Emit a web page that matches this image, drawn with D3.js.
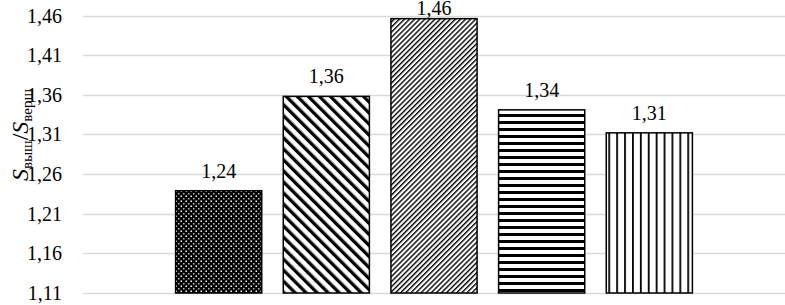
<!DOCTYPE html>
<html>
<head>
<meta charset="utf-8">
<script src="https://cdn.jsdelivr.net/npm/d3@7"></script>
<style>
  html, body { margin: 0; padding: 0; background: #fff; }
  svg { display: block; }
</style>
</head>
<body>
<svg id="chart"></svg>
<script>
(function () {
    // data
    var categories = ["95", "105", "115", "125", "135"];
    var values = [1.239, 1.358, 1.456, 1.341, 1.312];
    var patterns = ["dots", "wideDown", "narrowUp", "horiz", "vert"];
    var yTicks = [1.11, 1.16, 1.21, 1.26, 1.31, 1.36, 1.41, 1.46];

    var width = 785,
        height = 305,
        font = "Liberation Serif";

    var svg = d3.select('#chart')
        .attr('width', width)
        .attr('height', height)
        .attr('font-family', font);

    var x = d3.scaleBand()
        .domain(categories)
        .range([83, 785])
        .paddingInner(0.2)
        .paddingOuter(0.86);

    var y = d3.scaleLinear()
        .domain([1.11, 1.46])
        .range([293, 15.5]);

    var fmt = function (v) { return d3.format(".2f")(v).replace(".", ","); };

    // fill patterns
    var defs = svg.append("defs");

    var p1 = defs.append("pattern").attr("id", "dots")
        .attr("patternUnits", "userSpaceOnUse")
        .attr("width", 5).attr("height", 5);
    p1.append("rect").attr("width", 5).attr("height", 5).attr("fill", "#000");
    p1.append("rect").attr("x", 0.5).attr("y", 0.5).attr("width", 1.5).attr("height", 1.5).attr("fill", "#fff");
    p1.append("rect").attr("x", 3).attr("y", 3).attr("width", 1.5).attr("height", 1.5).attr("fill", "#bbb");

    var p2 = defs.append("pattern").attr("id", "wideDown")
        .attr("patternUnits", "userSpaceOnUse")
        .attr("width", 7.8).attr("height", 7.8)
        .attr("patternTransform", "rotate(-45)");
    p2.append("rect").attr("width", 7.8).attr("height", 7.8).attr("fill", "#fff");
    p2.append("rect").attr("width", 3.3).attr("height", 7.8).attr("fill", "#000");

    var p3 = defs.append("pattern").attr("id", "narrowUp")
        .attr("patternUnits", "userSpaceOnUse")
        .attr("width", 3.6).attr("height", 3.6)
        .attr("patternTransform", "rotate(45)");
    p3.append("rect").attr("width", 3.6).attr("height", 3.6).attr("fill", "#fff");
    p3.append("rect").attr("width", 1.4).attr("height", 3.6).attr("fill", "#000");

    var p4 = defs.append("pattern").attr("id", "horiz")
        .attr("patternUnits", "userSpaceOnUse")
        .attr("width", 10).attr("height", 7);
    p4.append("rect").attr("width", 10).attr("height", 7).attr("fill", "#fff");
    p4.append("rect").attr("y", 2).attr("width", 10).attr("height", 3).attr("fill", "#000");

    var p5 = defs.append("pattern").attr("id", "vert")
        .attr("patternUnits", "userSpaceOnUse")
        .attr("width", 7.9).attr("height", 10);
    p5.append("rect").attr("width", 7.9).attr("height", 10).attr("fill", "#fff");
    p5.append("rect").attr("x", 0).attr("width", 1.8).attr("height", 10).attr("fill", "#000");

    // gridlines
    svg.append("g")
        .selectAll("line")
        .data(yTicks)
        .enter().append("line")
        .attr("x1", 83).attr("x2", 785)
        .attr("y1", function (d) { return Math.round(y(d)) + 0.5; })
        .attr("y2", function (d) { return Math.round(y(d)) + 0.5; })
        .attr("stroke", "#d9d9d9")
        .attr("stroke-width", 1.3);

    // y tick labels
    svg.append("g")
        .selectAll("text")
        .data(yTicks)
        .enter().append("text")
        .attr("x", 62)
        .attr("y", function (d) { return y(d) + 7; })
        .attr("text-anchor", "end")
        .attr("font-family", font)
        .attr("font-size", 20)
        .attr("fill", "#000")
        .text(fmt);

    // bars
    svg.append("g")
        .selectAll("rect")
        .data(values)
        .enter().append("rect")
        .attr("x", function (d, i) { return x(categories[i]); })
        .attr("y", function (d) { return y(d); })
        .attr("width", x.bandwidth())
        .attr("height", function (d) { return y(1.11) - y(d); })
        .attr("fill", function (d, i) { return "url(#" + patterns[i] + ")"; })
        .attr("stroke", "#000")
        .attr("stroke-width", 1.5);

    // value labels
    svg.append("g")
        .selectAll("text")
        .data(values)
        .enter().append("text")
        .attr("x", function (d, i) { return x(categories[i]) + x.bandwidth() / 2; })
        .attr("y", function (d) { return Math.max(y(d) - 13, 15); })
        .attr("text-anchor", "middle")
        .attr("font-family", font)
        .attr("font-size", 20)
        .attr("fill", "#000")
        .text(fmt);

    // category labels (cut off by the bottom edge, as in the source)
    svg.append("g")
        .selectAll("text")
        .data(categories)
        .enter().append("text")
        .attr("x", function (d) { return x(d) + x.bandwidth() / 2; })
        .attr("y", 319)
        .attr("text-anchor", "middle")
        .attr("font-family", font)
        .attr("font-size", 20)
        .attr("fill", "#000")
        .text(function (d) { return d; });

    // y axis title
    var title = svg.append("text")
        .attr("transform", "translate(28,135) rotate(-90)")
        .attr("text-anchor", "middle")
        .attr("font-family", font)
        .attr("font-size", 24)
        .attr("fill", "#000");
    title.append("tspan").attr("font-style", "italic").text("S");
    title.append("tspan").attr("font-size", 15).attr("dy", 4).text("выш");
    title.append("tspan").attr("dy", -4).text("/");
    title.append("tspan").attr("font-style", "italic").text("S");
    title.append("tspan").attr("font-size", 15).attr("dy", 4).text("верш");
})();
</script>
</body>
</html>
